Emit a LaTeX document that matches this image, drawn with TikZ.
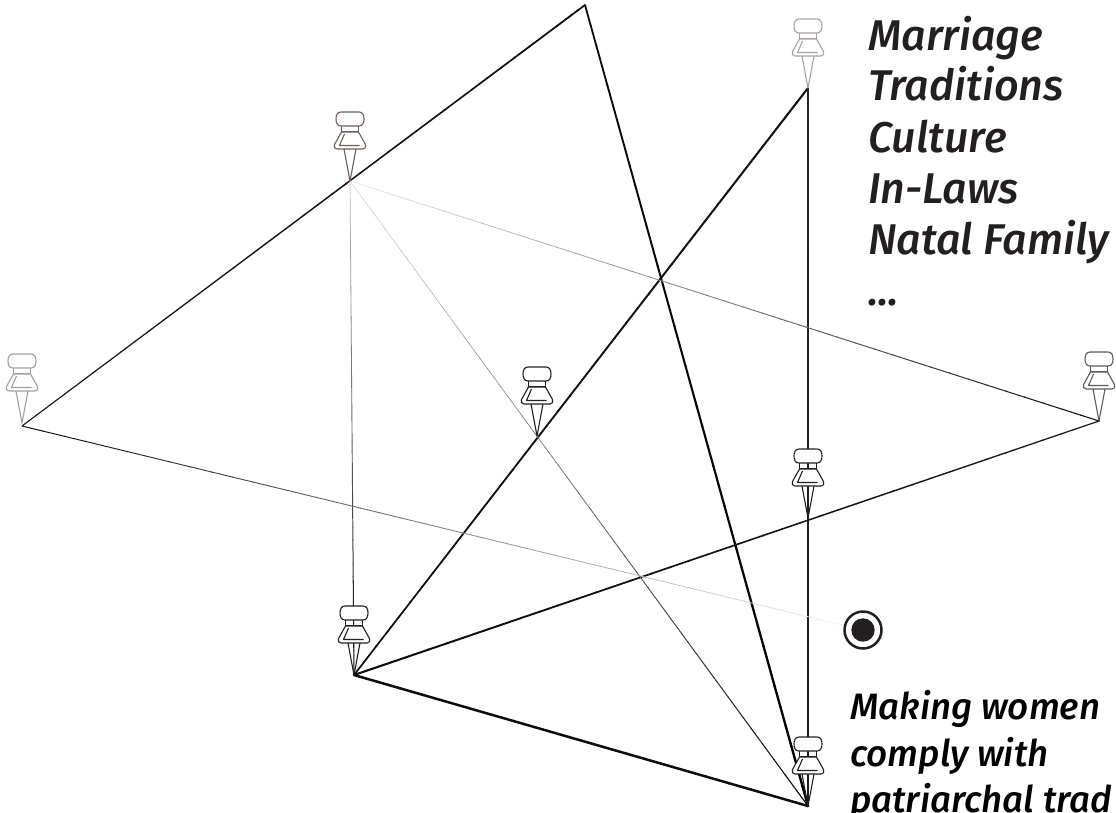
\documentclass[tikz,border=0pt]{standalone}
\usepackage{fontspec}
\usetikzlibrary{calc}
\setmainfont{Fira Sans}
\newfontfamily\lblfont{Fira Sans Medium Italic}
\definecolor{ink}{HTML}{231F20}
\definecolor{pinA}{HTML}{6E5F5D}
\definecolor{pinD}{HTML}{A6A2A1}
\definecolor{pinL}{HTML}{A39F9D}
\definecolor{pinR}{HTML}{5F5A58}
\tikzset{
  pinline/.style={line width=1.1pt,line join=round,draw=#1},
  pics/pushpin/.style={code={
    \draw[pinline=#1,fill=white] (-9,-69) -- (9,-69) .. controls (12.5,-69) and (14,-66) .. (14,-62) .. controls (14,-58) and (12.5,-55) .. (9,-55) -- (-9,-55) .. controls (-12.5,-55) and (-14,-58) .. (-14,-62) .. controls (-14,-66) and (-12.5,-69) .. (-9,-69) -- cycle;
    \draw[pinline=#1] (-8.5,-55) -- (-8.5,-49) (8.5,-55) -- (8.5,-49) (-8.5,-49) -- (8.5,-49);
    \draw[pinline=#1,fill=white] (-8.5,-49) -- (-15.5,-36.5) .. controls (-16.5,-34) and (-15.5,-32) .. (-13,-32) -- (13,-32) .. controls (15.5,-32) and (16.5,-34) .. (15.5,-36.5) -- (8.5,-49) -- cycle;
    \draw[pinline=#1] (-5.5,-47) -- (-10.5,-35.5) -- (9.5,-35.5);
    \draw[pinline=#1] (-6,-32) -- (0,0) -- (6,-32);
  }},
  upperlbl/.style={anchor=base west,inner sep=0pt,font=\fontsize{43}{43}\lblfont,text=ink},
  lowerlbl/.style={anchor=base west,inner sep=0pt,font=\fontsize{36.7}{36.7}\lblfont,text=black}
}
\newcommand{\grad}[6]{%
  \foreach \i in {1,...,40}{%
    \pgfmathsetmacro{\tA}{(\i-1)/40}%
    \pgfmathsetmacro{\tB}{\i/40+0.001}%
    \pgfmathsetmacro{\pc}{#3+(#4-#3)*(\i-0.5)/40}%
    \pgfmathsetmacro{\wd}{#5+(#6-#5)*(\i-0.5)/40}%
    \draw[draw=black!\pc!white,line width=\wd pt] ($(#1)!\tA!(#2)$) -- ($(#1)!\tB!(#2)$);
  }%
}
\begin{document}
\begin{tikzpicture}[x=1pt,y=-1pt]
\useasboundingbox (0,0) rectangle (1116,812);
\clip (0,0) rectangle (1116,812);
\fill[white] (0,0) rectangle (1116,812);
\coordinate (top) at (585,5);
\coordinate (a) at (350,181);
\coordinate (l) at (22,426);
\coordinate (b) at (537,436);
\coordinate (r) at (1099,421);
\coordinate (c) at (808,518);
\coordinate (d) at (808,88);
\coordinate (e) at (354,675);
\coordinate (f) at (808,806);
\coordinate (t) at (863,630);
% connectors
\grad{l}{top}{90}{95}{1.1}{1.8}
\grad{top}{f}{95}{100}{1.8}{2.4}
\grad{d}{e}{92}{95}{2.1}{1.7}
\grad{d}{f}{85}{90}{2.6}{2.6}
\grad{r}{e}{90}{95}{1.2}{2.1}
\grad{e}{f}{95}{95}{2.5}{2.5}
\grad{a}{r}{8}{95}{0.7}{1.1}
\grad{a}{e}{25}{95}{0.7}{1.1}
\grad{a}{f}{15}{100}{0.5}{1.1}
\grad{l}{t}{95}{3}{1.0}{0.7}
% target
\node[circle,draw=ink,line width=2.5pt,minimum size=37pt,inner sep=0pt,fill=white] (goal) at (t) {};
\fill[ink] (t) circle (11.7);
% pins
\pic at (a) {pushpin={pinA}};
\pic at (d) {pushpin={pinD}};
\pic at ($(l)+(0,-3)$) {pushpin={pinL}};
\pic at (r) {pushpin={pinR}};
\pic at (b) {pushpin={ink}};
\pic at (c) {pushpin={ink}};
\pic at (e) {pushpin={ink}};
\pic at (f) {pushpin={ink}};
% text
\node[upperlbl] (t1) at (868,50) {Marriage};
\node[upperlbl] (t2) at (868,100) {Traditions};
\node[upperlbl] (t3) at (868,152) {Culture};
\node[upperlbl] (t4) at (868,203) {In-Laws};
\node[upperlbl] (t5) at (868,254) {Natal Family};
\node[upperlbl] (t6) at (868,305) {...};
\node[lowerlbl] (m1) at (850,719) {Making women};
\node[lowerlbl] (m2) at (850,766) {comply with};
\node[lowerlbl] (m3) at (850,812) {patriarchal trad};
\end{tikzpicture}
\end{document}
